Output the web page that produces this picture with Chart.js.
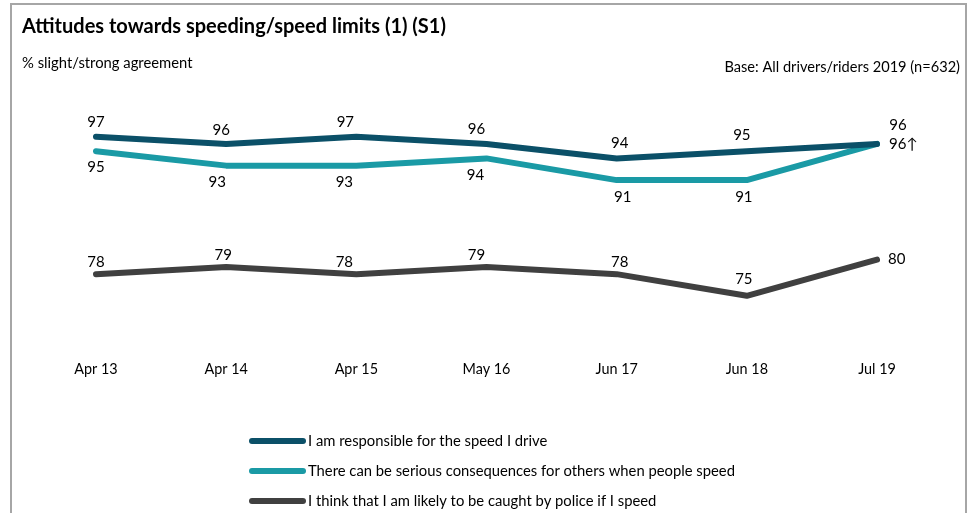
<!DOCTYPE html>
<html>
<head>
<meta charset="utf-8">
<script src="https://cdn.jsdelivr.net/npm/chart.js@4.4.1/dist/chart.umd.min.js"></script>
<style>
  html, body { margin: 0; padding: 0; background: #ffffff; }
  #wrap { width: 969px; height: 513px; position: relative; }
</style>
</head>
<body>
<div id="wrap"><canvas id="c" width="969" height="513"></canvas></div>
<script>
// Survey waves
const waves = ['Apr 13', 'Apr 14', 'Apr 15', 'May 16', 'Jun 17', 'Jun 18', 'Jul 19'];

// % slight/strong agreement per statement
const responsible = [97, 96, 97, 96, 94, 95, 96];
const consequences = [95, 93, 93, 94, 91, 91, 96];
const caughtByPolice = [78, 79, 78, 79, 78, 75, 80];

const seriesNames = [
  'I am responsible for the speed I drive',
  'There can be serious consequences for others when people speed',
  'I think that I am likely to be caught by police if I speed'
];

// Marker appended to a value that is a significant rise
const sigUp = [
  [false, false, false, false, false, false, false],
  [false, false, false, false, false, false, true],
  [false, false, false, false, false, false, false]
];

const colors = ['#0b5068', '#1a9aa5', '#404040'];
const FONT = 'Lato, "Liberation Sans", sans-serif';

// Value label placement: [dx, dy, align] per series and point
const labelPlace = [
  [[0,-15,'center'],[-5,-14,'center'],[-11,-15,'center'],[-10,-15,'center'],[3,-15,'center'],[-5,-16,'center'],[21,-19,'center']],
  [[0,16,'center'],[-9,17,'center'],[-12,17,'center'],[-11,17,'center'],[6,17,'center'],[-3,17,'center'],[12,0,'left']],
  [[0,-12,'center'],[-3,-12,'center'],[-12,-12,'center'],[-10,-12,'center'],[3,-12,'center'],[-3,-17,'center'],[11,-1,'left']]
];

const frameAndText = {
  id: 'frameAndText',
  afterDraw(chart) {
    const ctx = chart.ctx;
    ctx.save();
    // panel frame
    ctx.strokeStyle = '#a6a6a6';
    ctx.lineWidth = 2;
    ctx.beginPath();
    ctx.moveTo(11, 513);
    ctx.lineTo(11, 4);
    ctx.lineTo(966, 4);
    ctx.lineTo(966, 513);
    ctx.stroke();

    ctx.fillStyle = '#000000';
    ctx.textBaseline = 'middle';
    ctx.textAlign = 'left';
    ctx.font = 'bold 20px ' + FONT;
    ctx.fillText('Attitudes towards speeding/speed limits (1) (S1)', 22, 27);
    ctx.font = '14.8px ' + FONT;
    ctx.fillText('% slight/strong agreement', 22, 63);
    ctx.textAlign = 'right';
    ctx.font = '14.6px ' + FONT;
    ctx.fillText('Base: All drivers/riders 2019 (n=632)', 960, 67);

    // value labels
    ctx.font = '15px ' + FONT;
    chart.data.datasets.forEach((ds, i) => {
      const meta = chart.getDatasetMeta(i);
      meta.data.forEach((pt, j) => {
        const p = labelPlace[i][j];
        ctx.textAlign = p[2];
        const txt = String(ds.data[j]) + (sigUp[i][j] ? '\u2191' : '');
        ctx.fillText(txt, pt.x + p[0], pt.y + p[1]);
      });
    });

    // legend, stacked vertically
    ctx.font = '14.8px ' + FONT;
    ctx.textAlign = 'left';
    chart.data.datasets.forEach((ds, i) => {
      const y = 441 + i * 30;
      ctx.strokeStyle = ds.borderColor;
      ctx.lineWidth = 6;
      ctx.lineCap = 'round';
      ctx.beginPath();
      ctx.moveTo(252, y);
      ctx.lineTo(303, y);
      ctx.stroke();
      ctx.fillText(ds.label, 308, y);
    });
    ctx.restore();
  }
};

new Chart(document.getElementById('c'), {
  type: 'line',
  data: {
    labels: waves,
    datasets: [responsible, consequences, caughtByPolice].map((d, i) => ({
      label: seriesNames[i],
      data: d,
      borderColor: colors[i],
      backgroundColor: colors[i],
      borderWidth: 6,
      borderCapStyle: 'round',
      borderJoinStyle: 'round',
      pointRadius: 0,
      tension: 0,
      fill: false
    }))
  },
  options: {
    responsive: false,
    animation: false,
    layout: { padding: { left: 96, right: 92, top: 115, bottom: 121 } },
    plugins: {
      legend: { display: false },
      tooltip: { enabled: false },
      title: { display: false }
    },
    scales: {
      x: {
        offset: false,
        grid: { display: false, drawTicks: false },
        border: { display: false },
        ticks: {
          color: '#000000',
          font: { family: FONT, size: 14.4 },
          padding: 29,
          maxRotation: 0,
          autoSkip: false
        },
        afterFit(axis) { axis.height = 60; }
      },
      y: {
        display: false,
        min: 70,
        max: 100
      }
    }
  },
  plugins: [frameAndText]
});
</script>
</body>
</html>
